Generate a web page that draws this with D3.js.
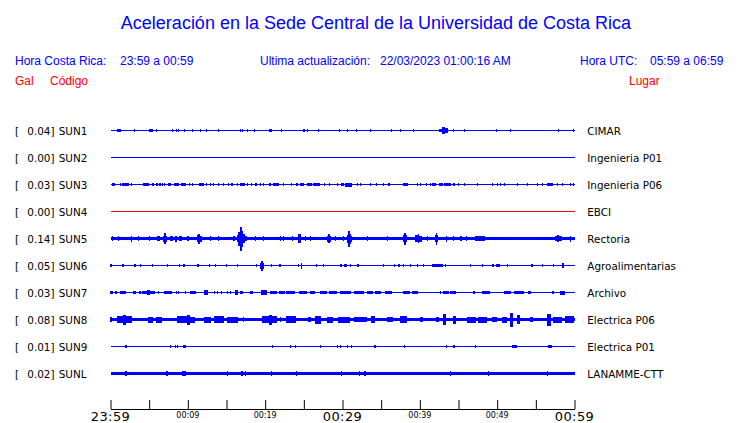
<!DOCTYPE html>
<html>
<head>
<meta charset="utf-8">
<script src="https://cdn.jsdelivr.net/npm/d3@7"></script>
<style>
  html, body { margin: 0; padding: 0; background: #fff; }
  svg { display: block; }
</style>
</head>
<body>
<svg id="chart" width="740" height="423"></svg>
<script>
// ---------------- DATA ----------------
const titleText = "Aceleración en la Sede Central de la Universidad de Costa Rica";
const localTimeLabel = "Hora Costa Rica:";
const localTimeRange = "23:59 a 00:59";
const updateLabel = "Ultima actualización:";
const updateValue = "22/03/2023 01:00:16 AM";
const utcLabel = "Hora UTC:";
const utcRange = "05:59 a 06:59";
const colHeaders = ["Gal", "Código", "Lugar"];

const stations = ["SUN1", "SUN2", "SUN3", "SUN4", "SUN5", "SUN6", "SUN7", "SUN8", "SUN9", "SUNL"];
const peakGal = [0.04, 0.00, 0.03, 0.00, 0.14, 0.05, 0.03, 0.08, 0.01, 0.02];
const places = ["CIMAR", "Ingenieria P01", "Ingenieria P06", "EBCI", "Rectoria",
  "Agroalimentarias", "Archivo", "Electrica P06", "Electrica P01", "LANAMME-CTT"];
// background (noise) amplitude of each trace, relative units
const baseAmp = [0.6, 0.5, 0.5, 0.5, 1.8, 0.5, 0.5, 1.7, 0.5, 1.8];

// minutes since 23:59
const tickMinutes = [0, 5, 10, 15, 20, 25, 30, 35, 40, 45, 50, 55, 60];
const labelMinutes = [0, 10, 20, 30, 40, 50, 60];
const tickLabels = ["23:59", "00:09", "00:19", "00:29", "00:39", "00:49", "00:59"];
const majorLabels = ["23:59", "00:29", "00:59"];

// bursts per station: [start minute, end minute, relative amplitude]
const sun1 = [[0.9,1.4,1.6],[3.1,3.1,1.5],[5.0,5.0,1.5],[5.2,5.6,1.6],[5.9,5.9,1.5],[8.0,8.0,1.2],
  [8.5,8.5,1.5],[8.75,8.75,1.5],[9.6,9.6,1.5],[10.6,10.6,1.2],[11.6,11.6,1.5],[12.4,12.4,1.2],
  [14.0,14.0,1.5],[16.8,16.8,1.5],[17.1,17.1,1.5],[17.7,17.7,1.5],[18.6,18.6,1.5],[20.5,20.9,1.6],
  [22.1,22.1,1.5],[25.0,25.0,1.5],[25.5,25.5,1.2],[26.9,26.9,1.5],[29.6,29.6,1.5],[30.6,30.6,1.5],
  [31.8,31.8,1.5],[33.6,33.6,1.5],[36.3,36.3,1.5],[37.5,37.5,1.2],[39.2,39.2,1.5],[42.6,42.9,1.8],
  [42.9,43.3,3.2],[43.3,43.7,2.2],[44.3,44.3,1.5],[45.8,45.8,1.5],[49.9,49.9,1.5],[51.7,51.7,1.5],
  [57.9,57.9,1.2],[59.9,59.9,1.5]];
const sun2 = [];
const sun3 = [[0.2,0.7,1.5],[1.3,1.3,1.3],[1.6,2.4,1.5],[2.7,2.7,1.3],[4.3,5.1,1.5],[5.4,5.7,1.5],
  [6.0,6.0,1.3],[6.4,6.4,1.3],[6.7,6.7,1.3],[7.0,7.0,1.3],[7.45,7.85,1.5],[8.3,8.9,1.6],[9.2,9.8,1.5],
  [10.2,10.2,1.3],[10.6,10.6,1.3],[11.55,12.1,1.5],[12.4,12.4,1.3],[12.9,12.9,1.3],[13.3,13.3,1.3],
  [14.0,14.0,1.3],[14.6,14.6,1.3],[15.2,15.2,1.3],[15.7,15.85,1.3],[16.4,16.4,1.3],[16.75,17.4,1.6],
  [17.7,17.7,1.3],[18.2,18.2,1.3],[18.8,18.8,1.3],[19.4,19.4,1.3],[19.8,19.8,1.3],[20.5,20.85,1.5],
  [21.1,21.9,1.6],[22.35,22.35,1.3],[23.4,23.4,1.3],[24.1,24.1,1.3],[24.6,25.1,1.5],[25.45,26.1,1.5],
  [26.3,27.1,1.5],[27.7,27.7,1.3],[28.3,28.3,1.3],[29.3,29.3,1.3],[29.85,30.3,1.5],[30.4,31.25,2.0],
  [31.9,31.9,1.3],[32.3,32.3,1.3],[33.6,33.6,1.3],[34.4,34.4,1.3],[35.3,35.3,1.3],[36.0,36.0,1.3],
  [37.9,38.5,1.8],[39.7,39.7,1.3],[40.1,40.1,1.3],[40.9,40.9,1.3],[41.4,41.4,1.3],[41.7,42.2,1.5],
  [42.6,43.0,1.5],[43.2,44.1,1.7],[44.4,44.4,1.3],[45.0,45.0,1.3],[45.8,45.8,1.3],[47.4,47.4,1.3],
  [49.4,49.4,1.3],[50.0,50.0,1.3],[50.4,50.4,1.3],[50.9,50.9,1.3],[52.6,52.6,1.3],[53.9,53.9,1.3],
  [55.2,55.2,1.3],[55.8,55.8,1.3],[56.5,57.3,1.7],[57.8,57.8,1.3],[58.4,58.4,1.3],[59.5,59.5,1.3],
  [59.9,59.9,1.5]];
const sun4 = [];
const sun5 = [[0.2,0.4,2.6],[1.0,1.0,2.5],[2.7,2.7,3.0],[3.6,3.6,2.4],[5.0,5.0,2.4],[6.1,6.5,2.6],
  [6.9,7.0,3.0],[7.0,7.2,5.5],[7.2,7.4,3.0],[7.8,8.2,2.8],[8.4,8.6,3.0],[8.9,9.3,2.6],[10.0,10.0,2.5],
  [11.2,11.4,3.5],[11.4,11.7,5.0],[11.7,11.8,3.0],[12.9,12.9,2.4],[14.0,14.0,2.4],[15.95,15.95,2.6],
  [16.4,16.6,3.5],[16.6,16.85,7.0],[16.85,17.0,12.0],[17.0,17.2,8.0],[17.2,17.5,4.5],[17.5,17.7,2.6],
  [18.75,18.75,2.5],[19.8,19.8,2.5],[22.0,22.0,2.4],[22.4,22.4,2.4],[23.5,23.5,2.4],[24.3,24.65,4.2],
  [25.2,25.2,2.6],[25.8,25.8,2.6],[28.0,28.2,3.0],[28.2,28.4,4.2],[28.4,28.5,3.0],[29.1,29.1,2.4],
  [30.1,30.1,2.6],[30.6,30.8,4.0],[30.8,31.0,8.0],[31.0,31.2,5.0],[31.2,31.3,3.0],[33.2,33.2,2.4],
  [35.8,35.8,2.4],[37.9,38.0,3.5],[38.0,38.3,6.0],[38.3,38.4,3.5],[39.45,39.8,3.5],[39.8,40.0,4.3],
  [40.0,40.3,3.0],[41.0,41.0,2.6],[42.0,42.1,3.5],[42.1,42.3,6.0],[42.3,42.4,3.5],[43.45,43.45,3.0],
  [44.35,44.35,2.4],[45.3,45.3,2.4],[46.0,46.0,2.4],[47.2,48.5,2.2],[57.55,57.8,2.8],[57.8,58.1,3.6],
  [58.1,58.4,2.6],[59.5,59.5,3.0]];
const sun6 = [[0.0,0.2,1.7],[1.6,1.6,1.3],[3.1,3.4,1.5],[3.9,3.9,1.3],[5.4,5.4,1.3],[7.4,7.4,1.3],
  [8.95,8.95,1.3],[9.5,9.5,1.5],[11.3,11.3,1.3],[12.8,12.8,1.3],[13.6,13.6,1.5],[15.0,15.0,1.5],
  [16.4,16.4,1.5],[18.85,18.85,1.5],[19.4,19.55,3.0],[19.55,19.75,5.0],[19.75,19.95,3.0],[20.8,20.8,1.3],
  [21.9,21.9,1.3],[24.3,24.3,1.3],[24.7,24.85,3.0],[26.6,26.8,1.5],[27.5,27.5,1.3],[29.8,29.95,1.5],
  [30.2,30.6,1.5],[31.0,31.0,1.3],[32.0,32.0,1.3],[35.3,35.3,1.5],[36.7,36.7,1.3],[37.3,37.3,1.3],
  [37.9,37.9,1.3],[38.8,38.8,1.5],[39.7,39.7,1.3],[40.5,40.5,1.3],[41.7,42.5,1.5],[42.6,43.0,1.6],
  [43.3,43.3,1.3],[46.5,46.5,1.3],[48.1,48.1,1.5],[49.4,49.7,1.5],[49.9,50.4,1.8],[51.3,51.3,1.5],
  [54.5,54.5,1.5],[55.8,55.8,1.5],[57.3,57.3,1.3],[58.5,58.6,2.2]];
const sun7 = [[0.0,0.4,1.5],[0.6,0.9,1.5],[1.3,2.1,1.5],[3.0,3.4,1.5],[3.8,3.8,1.3],[4.1,4.1,1.3],
  [4.3,4.8,1.8],[4.8,5.2,2.8],[5.2,5.8,1.8],[6.2,6.2,1.3],[7.0,8.0,1.6],[8.5,8.5,1.3],[8.8,8.8,1.3],
  [9.7,9.7,1.3],[10.35,11.1,1.6],[12.2,12.7,2.5],[13.4,13.4,1.3],[13.8,13.8,1.3],[14.3,14.3,1.3],
  [15.1,15.1,1.3],[15.5,15.5,1.3],[16.1,16.6,2.5],[16.8,17.2,1.5],[18.1,18.5,1.5],[19.5,20.25,2.3],
  [20.7,21.6,1.6],[21.8,22.6,1.7],[22.8,23.9,1.6],[24.5,25.5,1.6],[25.8,26.5,1.6],[27.2,28.0,1.6],
  [28.3,29.4,1.6],[29.8,31.2,1.6],[31.5,32.8,1.6],[33.2,34.0,1.6],[34.3,35.0,1.6],[35.6,36.5,1.6],
  [37.9,38.8,1.6],[39.0,39.8,1.6],[42.7,42.7,1.3],[43.0,43.9,1.6],[44.0,44.7,1.8],[47.0,47.0,1.3],
  [48.1,49.1,1.6],[50.9,51.8,1.6],[52.2,53.5,1.6],[54.1,54.5,1.5],[57.1,57.4,1.5],[58.2,58.85,2.0]];
const sun8 = [[0.0,0.2,2.5],[0.9,1.7,3.5],[1.7,2.1,5.0],[2.1,2.8,3.5],[4.9,5.6,3.0],[6.0,6.7,3.0],
  [8.6,9.9,3.5],[9.9,10.3,5.0],[10.3,11.0,3.0],[12.1,13.0,3.0],[13.4,14.7,3.5],[15.1,16.6,3.0],
  [17.2,17.2,2.5],[19.6,20.5,3.8],[20.5,20.9,5.0],[20.9,21.6,3.5],[22.0,22.0,2.5],[22.8,24.0,3.5],
  [25.6,26.0,2.5],[26.5,27.3,4.0],[28.0,28.9,3.0],[29.5,31.0,3.0],[31.5,33.2,2.5],[33.8,34.3,3.5],
  [35.8,36.6,2.5],[37.5,38.4,3.5],[40.1,40.5,2.5],[42.2,42.6,2.5],[43.1,43.5,5.5],[44.4,44.8,4.0],
  [46.1,47.3,3.0],[47.6,48.7,3.0],[49.4,50.0,2.5],[50.7,51.3,3.0],[51.7,52.1,7.0],[52.6,53.0,4.5],
  [54.3,54.7,2.5],[56.5,57.0,6.0],[57.3,58.5,3.0],[58.8,60.0,3.5]];
const sun9 = [[2.0,2.0,1.5],[7.7,7.7,1.3],[8.4,8.4,1.5],[8.7,8.7,1.3],[9.5,9.5,1.5],[9.7,9.7,1.5],
  [20.9,20.9,1.5],[23.3,23.3,1.3],[23.9,23.9,1.3],[27.1,27.1,1.3],[29.3,29.3,1.3],[29.75,29.75,1.3],
  [30.6,30.6,1.5],[31.1,31.1,1.3],[34.2,34.2,1.3],[38.0,38.0,1.5],[43.45,43.45,1.5],[44.4,44.4,1.3],
  [47.2,47.2,1.3],[52.0,52.6,1.5],[56.7,57.1,1.5]];
const sunL = [[2.0,2.0,2.5],[7.3,7.3,2.4],[9.3,9.8,2.6],[15.1,15.1,2.4],[17.0,17.0,2.5],[17.4,17.4,2.5],
  [20.8,20.8,2.6],[24.0,24.0,2.4],[29.9,29.9,2.5],[32.2,32.2,2.4],[32.9,32.9,2.4],[43.95,43.95,2.5],
  [48.9,48.9,2.4],[56.5,56.5,2.6]];
const bursts = [sun1, sun2, sun3, sun4, sun5, sun6, sun7, sun8, sun9, sunL];

// ---------------- STYLE ----------------
const blue = "#0000ff";
const red = "#ff0000";
const traceColor = code => code === "SUN4" ? red : blue;
const headFont = "'Liberation Sans', Arial, sans-serif";
const labFont = "'DejaVu Sans', Verdana, sans-serif";

// ---------------- DRAW ----------------
const svg = d3.select("#chart");

const x = d3.scaleLinear().domain([0, 60]).range([110.5, 574.5]);
const y = d3.scalePoint().domain(stations).range([130.5, 373.5]);
const amp = d3.scaleLinear().domain([0, 10]).range([0, 10]);

// header
svg.append("text").attr("x", 376).attr("y", 29).attr("text-anchor", "middle")
  .attr("font-family", headFont).attr("font-size", 18).attr("fill", blue).text(titleText);

const hdr = [
  [localTimeLabel, 15, blue], [localTimeRange, 120, blue],
  [updateLabel, 260, blue], [updateValue, 380, blue],
  [utcLabel, 580, blue], [utcRange, 650, blue]
];
svg.selectAll("text.hdr").data(hdr).enter().append("text").attr("class", "hdr")
  .attr("x", d => d[1]).attr("y", 65)
  .attr("font-family", headFont).attr("font-size", 12).attr("fill", d => d[2])
  .text(d => d[0]);

svg.selectAll("text.col").data(colHeaders).enter().append("text").attr("class", "col")
  .attr("x", (d, i) => [15, 50, 629][i]).attr("y", 85)
  .attr("font-family", headFont).attr("font-size", 12).attr("fill", red)
  .text(d => d);

// rows
const rows = svg.selectAll("g.row").data(stations).enter().append("g")
  .attr("class", "row").attr("transform", d => `translate(0,${y(d)})`);

rows.append("text").attr("x", 15).attr("y", 4)
  .attr("font-family", labFont).attr("font-size", 10.4).attr("fill", "#000").text("[");
rows.append("text").attr("x", 54.5).attr("y", 4).attr("text-anchor", "end")
  .attr("font-family", labFont).attr("font-size", 10.4).attr("fill", "#000")
  .text((d, i) => peakGal[i].toFixed(2) + "]");
rows.append("text").attr("x", 58.7).attr("y", 4)
  .attr("font-family", labFont).attr("font-size", 10.4).attr("fill", "#000").text(d => d);
rows.append("text").attr("x", 587.3).attr("y", 4)
  .attr("font-family", labFont).attr("font-size", 10.4).attr("fill", "#000")
  .text((d, i) => places[i]);

// base trace
rows.append("rect")
  .attr("x", x(0)).attr("width", x(60) - x(0))
  .attr("y", (d, i) => -Math.max(amp(baseAmp[i]), 0.5))
  .attr("height", (d, i) => Math.max(2 * amp(baseAmp[i]), 1))
  .attr("fill", d => traceColor(d)).attr("shape-rendering", "crispEdges");

// bursts
rows.each(function (code, i) {
  d3.select(this).selectAll("rect.burst").data(bursts[i]).enter().append("rect")
    .attr("class", "burst")
    .attr("x", d => x(d[0]) - 0.5)
    .attr("width", d => Math.max(x(d[1]) - x(d[0]), 1.2))
    .attr("y", d => -amp(d[2]))
    .attr("height", d => 2 * amp(d[2]))
    .attr("fill", traceColor(code)).attr("shape-rendering", "crispEdges");
});

// time axis
const axisG = svg.append("g").attr("transform", "translate(0,409)")
  .call(d3.axisBottom(x).tickValues(tickMinutes).tickSize(-9).tickSizeOuter(0).tickFormat(""));
axisG.select(".domain").attr("stroke", "#000");
axisG.selectAll(".tick line").attr("stroke", "#000");

svg.selectAll("text.tl").data(labelMinutes).enter().append("text").attr("class", "tl")
  .attr("x", d => x(d)).attr("text-anchor", "middle")
  .attr("y", (d, i) => majorLabels.includes(tickLabels[i]) ? 421 : 418)
  .attr("font-family", labFont)
  .attr("font-size", (d, i) => majorLabels.includes(tickLabels[i]) ? 13 : 8)
  .attr("letter-spacing", (d, i) => majorLabels.includes(tickLabels[i]) ? 0.4 : 0)
  .attr("fill", "#000")
  .text((d, i) => tickLabels[i]);
</script>
</body>
</html>
